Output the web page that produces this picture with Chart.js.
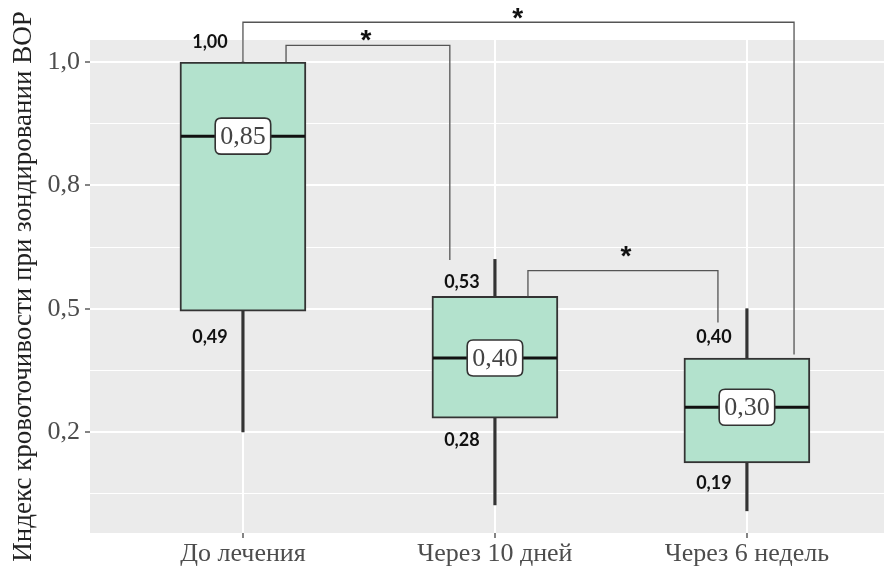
<!DOCTYPE html>
<html><head><meta charset="utf-8">
<script src="https://cdn.jsdelivr.net/npm/chart.js@4.4.1/dist/chart.umd.min.js"></script>
<style>html,body{margin:0;padding:0;background:#fff;}canvas{display:block;}</style>
</head><body>
<canvas id="c" width="884" height="573"></canvas>
<script>
// ---- data ----
const categories = ['До лечения', 'Через 10 дней', 'Через 6 недель'];
const whiskerLow  = [0.25, 0.102, 0.090];
const q1          = [0.495, 0.278, 0.187];
const median      = [0.85, 0.40, 0.30];
const q3          = [1.00, 0.525, 0.40];
const whiskerHigh = [1.00, 0.60, 0.50];
const medianLabels = ['0,85', '0,40', '0,30'];
const q3Labels     = ['1,00', '0,53', '0,40'];
const q1Labels     = ['0,49', '0,28', '0,19'];
const yTickValues  = [0.25, 0.5, 0.75, 1.0];
const yTickLabels  = ['0,2', '0,5', '0,8', '1,0'];
const yMinorValues = [0.125, 0.375, 0.625, 0.875];
const yTitle = 'Индекс кровоточивости при зондировании BOP';
// significance brackets (data units): from group x1 to x2, ends at y1/y2, bar level
const comparisons = [
  { x1: 1.0,   y1: 1.0,   x2: 3.187, y2: 0.407, level: 1.081, starX: 2.09,  starY: 1.099, label: '*' },
  { x1: 1.171, y1: 1.0,   x2: 1.821, y2: 0.599, level: 1.034, starX: 1.488, starY: 1.055, label: '*' },
  { x1: 2.131, y1: 0.525, x2: 2.885, y2: 0.472, level: 0.577, starX: 2.52,  starY: 0.616, label: '*' }
];

// ---- styles ----
const upperNudge = [-20, -14, -21];
const lowerNudge = [26, 22, 20];
const labelDx = -33;
const SERIF = '"Liberation Serif", "DejaVu Serif", serif';

const panelBg = {
  id: 'panelBg',
  beforeDraw(chart) {
    const { ctx, chartArea: a } = chart;
    ctx.save();
    ctx.fillStyle = '#ebebeb';
    ctx.fillRect(a.left, a.top, a.right - a.left, a.bottom - a.top);
    ctx.restore();
  }
};

function roundRect(ctx, x, y, w, h, r) {
  ctx.beginPath();
  ctx.moveTo(x + r, y);
  ctx.lineTo(x + w - r, y);
  ctx.quadraticCurveTo(x + w, y, x + w, y + r);
  ctx.lineTo(x + w, y + h - r);
  ctx.quadraticCurveTo(x + w, y + h, x + w - r, y + h);
  ctx.lineTo(x + r, y + h);
  ctx.quadraticCurveTo(x, y + h, x, y + h - r);
  ctx.lineTo(x, y + r);
  ctx.quadraticCurveTo(x, y, x + r, y);
  ctx.closePath();
}

const overlay = {
  id: 'overlay',
  afterDraw(chart) {
    const ctx = chart.ctx, xs = chart.scales.x, ys = chart.scales.y;
    const boxes = chart.getDatasetMeta(0).data;
    ctx.save();
    // brackets
    ctx.strokeStyle = '#555';
    ctx.lineWidth = 1.3;
    comparisons.forEach(c => {
      const xa = xs.getPixelForValue(c.x1), xb = xs.getPixelForValue(c.x2);
      const yl = ys.getPixelForValue(c.level);
      ctx.beginPath();
      ctx.moveTo(xa, ys.getPixelForValue(c.y1));
      ctx.lineTo(xa, yl);
      ctx.lineTo(xb, yl);
      ctx.lineTo(xb, ys.getPixelForValue(c.y2));
      ctx.stroke();
      ctx.font = 'bold 28px "Liberation Sans", sans-serif';
      ctx.fillStyle = '#111';
      ctx.textAlign = 'center';
      ctx.textBaseline = 'alphabetic';
      const m = ctx.measureText(c.label);
      const gy = ys.getPixelForValue(c.starY) + (m.actualBoundingBoxAscent - m.actualBoundingBoxDescent) / 2;
      ctx.fillText(c.label, xs.getPixelForValue(c.starX), gy);
    });
    boxes.forEach((bar, i) => {
      const py = ys.getPixelForValue(median[i]);
      const l = bar.x - bar.width / 2 + 1, r = bar.x + bar.width / 2 - 1;
      ctx.strokeStyle = '#111';
      ctx.lineWidth = 3;
      ctx.beginPath(); ctx.moveTo(l, py); ctx.lineTo(r, py); ctx.stroke();
      ctx.font = '26px ' + SERIF;
      const tw = ctx.measureText(medianLabels[i]).width;
      const w = tw + 10, h = 36;
      roundRect(ctx, bar.x - w / 2, py - h / 2, w, h, 6);
      ctx.fillStyle = '#fff'; ctx.fill();
      ctx.lineWidth = 1.6; ctx.strokeStyle = '#333'; ctx.stroke();
      ctx.fillStyle = '#444';
      ctx.textAlign = 'center'; ctx.textBaseline = 'middle';
      ctx.fillText(medianLabels[i], bar.x, py + 1);
      // value labels
      ctx.font = 'bold 18px Lato, "Open Sans", sans-serif';
      ctx.fillStyle = '#111';
      ctx.fillText(q3Labels[i], bar.x + labelDx, ys.getPixelForValue(q3[i]) + upperNudge[i]);
      ctx.fillText(q1Labels[i], bar.x + labelDx, ys.getPixelForValue(q1[i]) + lowerNudge[i]);
    });
    ctx.restore();
  }
};

const allY = yTickValues.concat(yMinorValues).sort((a, b) => a - b);
const isMinor = v => yMinorValues.some(m => Math.abs(m - v) < 1e-9);

new Chart(document.getElementById('c'), {
  type: 'bar',
  data: {
    datasets: [
      {
        label: 'box',
        data: categories.map((c, i) => ({ x: i + 1, y: [q1[i], q3[i]] })),
        backgroundColor: '#b3e2cd',
        borderColor: '#333333',
        borderWidth: 2,
        borderSkipped: false,
        barThickness: 126,
        grouped: false
      },
      {
        label: 'whisker',
        data: categories.map((c, i) => ({ x: i + 1, y: [whiskerLow[i], whiskerHigh[i]] })),
        backgroundColor: '#333333',
        borderWidth: 0,
        barThickness: 2.5,
        grouped: false
      }
    ]
  },
  options: {
    responsive: false,
    animation: false,
    layout: { padding: { top: 40, right: 0, left: 0, bottom: 0 } },
    plugins: { legend: { display: false }, tooltip: { enabled: false } },
    scales: {
      x: {
        type: 'linear',
        offset: false,
        min: 0.393, max: 3.544,
        afterBuildTicks: s => { s.ticks = categories.map((c, i) => ({ value: i + 1 })); },
        afterFit: s => { s.height = 40; },
        ticks: {
          callback: v => categories[Math.round(v) - 1],
          font: { family: SERIF, size: 26 },
          color: '#4d4d4d',
          padding: 1,
          maxRotation: 0,
          autoSkip: false
        },
        grid: { offset: false, color: '#ffffff', lineWidth: 2, tickColor: '#333333', tickLength: 5, tickWidth: 1.2 },
        border: { display: false }
      },
      y: {
        type: 'linear',
        min: 0.045, max: 1.045,
        afterBuildTicks: s => { s.ticks = allY.map(v => ({ value: v })); },
        afterFit: s => { s.width = 90; },
        ticks: {
          callback: v => { const k = yTickValues.findIndex(t => Math.abs(t - v) < 1e-9); return k >= 0 ? yTickLabels[k] : ''; },
          font: { family: SERIF, size: 26 },
          color: '#4d4d4d',
          padding: 5,
          autoSkip: false
        },
        grid: {
          color: '#ffffff',
          lineWidth: ctx => (ctx.tick && isMinor(ctx.tick.value)) ? 1 : 2,
          tickColor: ctx => (ctx.tick && isMinor(ctx.tick.value)) ? 'rgba(0,0,0,0)' : '#333333',
          tickLength: 5,
          tickWidth: 1.2
        },
        border: { display: false },
        title: {
          display: true,
          text: yTitle,
          font: { family: SERIF, size: 27 },
          color: '#222',
          padding: { top: 8, bottom: 0 }
        }
      }
    }
  },
  plugins: [panelBg, overlay]
});
</script>
</body></html>
